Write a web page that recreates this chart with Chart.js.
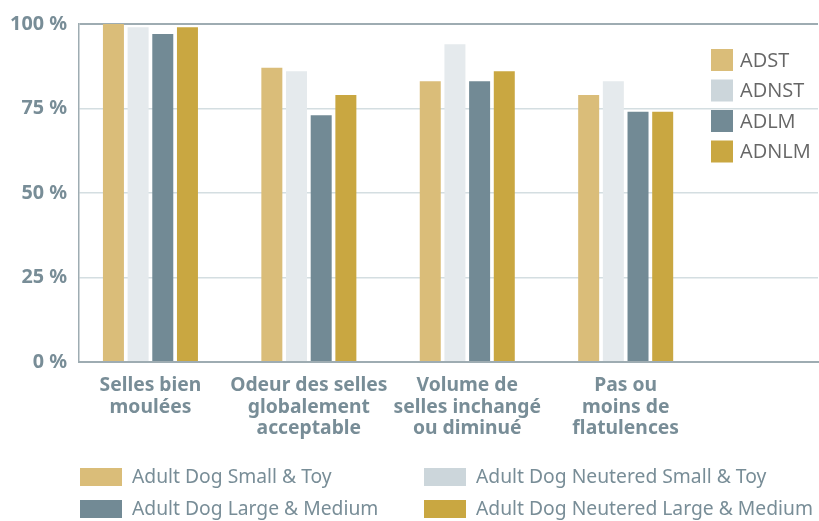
<!DOCTYPE html>
<html lang="fr">
<head>
  <meta charset="UTF-8">
  <title>Résultats digestifs</title>
  <script src="https://cdn.jsdelivr.net/npm/chart.js"></script>
  <style>
    html, body { margin: 0; padding: 0; background: #fff; }
  </style>
</head>
<body>
<canvas id="chart" width="819" height="521"></canvas>

<script>
  const categories = [
    ['Selles bien', 'moulées'],
    ['Odeur des selles', 'globalement', 'acceptable'],
    ['Volume de', 'selles inchangé', 'ou diminué'],
    ['Pas ou', 'moins de', 'flatulences']
  ];
  const shortNames = ['ADST', 'ADNST', 'ADLM', 'ADNLM'];
  const longNames = [
    'Adult Dog Small & Toy',
    'Adult Dog Neutered Small & Toy',
    'Adult Dog Large & Medium',
    'Adult Dog Neutered Large & Medium'
  ];
  const adst  = [100, 87, 83, 79];
  const adnst = [99, 86, 94, 83];
  const adlm  = [97, 73, 83, 74];
  const adnlm = [99, 79, 86, 74];
  const yTicks = [0, 25, 50, 75, 100];

  const series = [adst, adnst, adlm, adnlm];
  const barColors = ['#dabd79', '#e5eaed', '#728a95', '#c9a741'];
  const keyColors = ['#dabd79', '#ccd6db', '#728a95', '#c9a741'];

  const axisGray = '#9eacb2';
  const gridGray = '#d4dee1';
  const labelGray = '#788d97';

  // both legends (short names top right, long names below) drawn by hand
  const twoLegends = {
    id: 'twoLegends',
    afterDraw(chart) {
      const ctx = chart.ctx;
      ctx.save();
      ctx.textBaseline = 'middle';
      chart.data.datasets.forEach((ds, i) => {
        const ty = 49 + i * 30.5;
        ctx.fillStyle = ds.keyColor;
        ctx.fillRect(711, ty, 22, 22);
        ctx.fillStyle = '#666';
        ctx.font = '20px "Open Sans"';
        ctx.fillText(ds.shortLabel, 740, ty + 12);

        const col = i % 2, row = Math.floor(i / 2);
        const bx = col ? 424 : 80;
        const by = row ? 500 : 468;
        ctx.fillStyle = ds.keyColor;
        ctx.fillRect(bx, by, 42, 18);
        ctx.fillStyle = labelGray;
        ctx.font = '19.3px "Noto Sans"';
        ctx.fillText(ds.label, bx + 52, by + 10);
      });
      ctx.restore();
    }
  };

  const ctx = document.getElementById('chart').getContext('2d');

  new Chart(ctx, {
    type: 'bar',
    data: {
      datasets: series.map((vals, i) => ({
        label: longNames[i],
        shortLabel: shortNames[i],
        keyColor: keyColors[i],
        data: vals.map((v, j) => ({ x: j, y: v })),
        backgroundColor: barColors[i],
        borderWidth: 0,
        categoryPercentage: 0.623,
        barPercentage: 0.851
      }))
    },
    options: {
      responsive: false,
      animation: false,
      devicePixelRatio: 1,
      layout: { padding: { top: 19, right: 1, left: 0, bottom: 0 } },
      plugins: {
        legend: { display: false },
        tooltip: { enabled: false }
      },
      scales: {
        x: {
          type: 'linear',
          offset: false,
          min: -0.451,
          max: 4.214,
          afterFit(scale) { scale.height = 159; },
          grid: { display: false, drawTicks: false },
          border: { display: true, color: axisGray, width: 2 },
          ticks: {
            stepSize: 1,
            includeBounds: false,
            autoSkip: false,
            maxRotation: 0,
            minRotation: 0,
            padding: 13,
            color: labelGray,
            font: { family: 'Noto Sans', size: 19.3, weight: 'bold', lineHeight: 1.11 },
            callback: (v) => categories[v] || ''
          }
        },
        y: {
          min: 0,
          max: 100,
          z: 1,
          afterFit(scale) { scale.width = 79; },
          afterBuildTicks(scale) { scale.ticks = yTicks.map(v => ({ value: v })); },
          grid: {
            drawTicks: false,
            color: (c) => (c.tick.value === 0 || c.tick.value === 100) ? axisGray : gridGray,
            lineWidth: (c) => (c.tick.value === 0 || c.tick.value === 100) ? 2 : 1.5
          },
          border: { display: true, color: axisGray, width: 1.5 },
          ticks: {
            padding: 12,
            color: labelGray,
            font: { family: 'Noto Sans', size: 19.8, weight: 'bold' },
            callback: (v) => v + ' %'
          }
        }
      }
    },
    plugins: [twoLegends]
  });
</script>
</body>
</html>
